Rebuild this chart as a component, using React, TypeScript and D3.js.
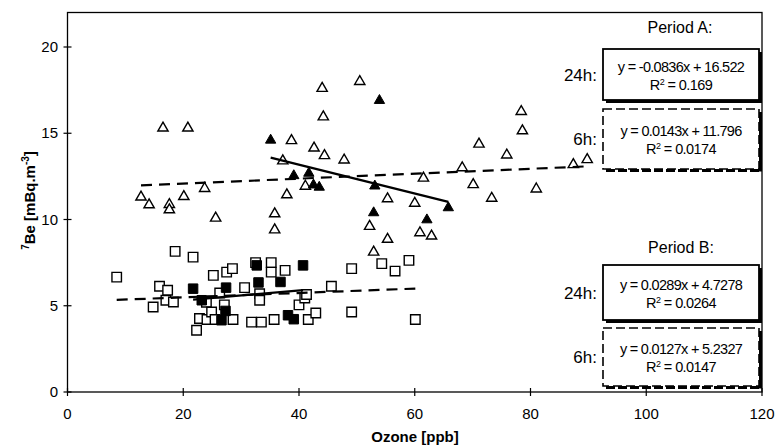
import React from "react";
import * as d3 from "d3";

const W = 776;
const H = 448;

// Period A, 6h samples (open triangles) [ozone ppb, 7Be mBq/m3]
const periodA6h: [number, number][] = [
  [12.7, 11.3], [14.1, 10.85], [17.6, 10.87], [17.6, 10.56], [20.1, 11.33],
  [23.7, 11.8], [25.6, 10.08], [16.5, 15.3], [20.8, 15.3], [35.8, 10.33],
  [35.8, 9.4], [37.2, 13.4], [37.9, 11.43], [38.7, 14.57], [41.1, 11.93],
  [42.6, 14.14], [44.0, 17.6], [44.2, 15.95], [44.4, 13.7], [47.8, 13.45],
  [50.5, 18.0], [52.2, 9.6], [52.9, 8.11], [55.3, 11.2], [55.3, 8.85],
  [60.0, 10.94], [60.9, 9.23], [61.5, 12.4], [62.9, 9.04], [68.2, 13.0],
  [70.1, 12.02], [71.1, 14.37], [73.3, 11.23], [75.9, 13.74], [78.4, 16.26],
  [78.6, 15.14], [81.0, 11.77], [87.4, 13.18], [89.8, 13.47],
];

// Period A, 24h samples (filled triangles)
const periodA24h: [number, number][] = [
  [35.1, 14.6], [39.1, 12.54], [41.7, 12.68], [42.5, 12.0], [43.5, 11.87],
  [53.9, 16.9], [53.1, 11.94], [52.9, 10.39], [62.1, 9.98], [65.8, 10.68],
];

// Period B, 6h samples (open squares)
const periodB6h: [number, number][] = [
  [8.5, 6.66], [14.8, 4.93], [15.9, 6.13], [17.0, 5.32], [17.3, 5.9],
  [18.3, 5.22], [18.6, 8.15], [21.7, 7.82], [22.3, 3.58], [22.8, 4.26],
  [24.0, 5.2], [24.1, 4.2], [24.9, 4.64], [25.2, 6.76], [25.5, 4.2],
  [26.3, 5.74], [27.1, 5.05], [27.5, 6.95], [28.5, 7.15], [28.6, 4.2],
  [30.6, 6.05], [31.8, 4.05], [32.5, 7.5], [33.2, 5.7], [33.2, 5.32],
  [33.5, 4.05], [35.2, 7.5], [35.2, 6.95], [35.7, 4.2], [37.6, 7.05],
  [40.0, 5.05], [41.0, 5.45], [41.3, 5.65], [41.6, 4.2], [42.9, 4.58],
  [45.6, 6.13], [49.1, 7.15], [49.1, 4.64], [54.3, 7.44], [56.6, 7.01],
  [59.0, 7.63], [60.1, 4.2],
];

// Period B, 24h samples (filled squares)
const periodB24h: [number, number][] = [
  [21.7, 5.99], [23.2, 5.32], [26.6, 4.16], [27.3, 4.7], [27.4, 6.05],
  [32.7, 7.34], [33.0, 6.35], [36.8, 6.38], [38.1, 4.45], [39.1, 4.22],
  [40.7, 7.34],
];

const xTicks = [0, 20, 40, 60, 80, 100, 120];
const yTicks = [0, 5, 10, 15, 20];

// linear fits shown in the boxes
const fits = [
  { id: "A24", data: periodA24h, slope: -0.0836, icept: 16.522, eq: "y = -0.0836x + 16.522", r2: "0.169", dashed: false, label: "24h:" },
  { id: "A6", data: periodA6h, slope: 0.0143, icept: 11.796, eq: "y = 0.0143x + 11.796", r2: "0.0174", dashed: true, label: "6h:" },
  { id: "B24", data: periodB24h, slope: 0.0289, icept: 4.7278, eq: "y = 0.0289x + 4.7278", r2: "0.0264", dashed: false, label: "24h:" },
  { id: "B6", data: periodB6h, slope: 0.0127, icept: 5.2327, eq: "y = 0.0127x + 5.2327", r2: "0.0147", dashed: true, label: "6h:" },
];

// box layout on the right side
const boxes: Record<string, { y: number; h: number }> = {
  A24: { y: 49, h: 51 },
  A6: { y: 109, h: 60 },
  B24: { y: 265, h: 55 },
  B6: { y: 328, h: 58 },
};

const font = "'Liberation Sans', Arial, sans-serif";

function Box({ fit }: { fit: typeof fits[number] }) {
  const b = boxes[fit.id];
  const bx = 603;
  const bw = 156;
  const cx = bx + bw / 2;
  const cy = b.y + b.h / 2;
  return (
    <g>
      <line x1={bx + bw + 1.5} y1={b.y + 3} x2={bx + bw + 1.5} y2={b.y + b.h + 2.5} stroke="black" strokeWidth={3} />
      <line x1={bx + 3} y1={b.y + b.h + 1.5} x2={bx + bw + 3} y2={b.y + b.h + 1.5} stroke="black" strokeWidth={3}
        strokeDasharray={fit.dashed ? "9 3" : undefined} />
      <rect x={bx} y={b.y} width={bw} height={b.h} fill="white" stroke="black" strokeWidth={fit.dashed ? 1.6 : 1.8}
        strokeDasharray={fit.dashed ? "9 4" : undefined} />
      <text x={cx} y={cy - 3} textAnchor="middle" fontFamily={font} fontSize={14.5} letterSpacing={-0.7}>{fit.eq}</text>
      <text x={cx} y={cy + 15} textAnchor="middle" fontFamily={font} fontSize={14.5} letterSpacing={-0.6}>
        R<tspan fontSize={9} dy={-5}>2</tspan><tspan dy={5}> = {fit.r2}</tspan>
      </text>
      <text x={597} y={cy + 6} textAnchor="end" fontFamily={font} fontSize={17}>{fit.label}</text>
    </g>
  );
}

export default function App() {
  const x = d3.scaleLinear().domain([0, 120]).range([67.5, 762]);
  const y = d3.scaleLinear().domain([0, 22]).range([392, 12.5]);

  const tri = d3.symbol().type(d3.symbolTriangle).size(46)()!;
  const sq = d3.symbol().type(d3.symbolSquare).size(90)()!;

  const trend = (f: typeof fits[number]) => {
    const [x0, x1] = d3.extent(f.data, (d) => d[0]) as [number, number];
    return d3.line<number>().x((d) => x(d)).y((d) => y(f.slope * d + f.icept))([x0, x1]) || "";
  };

  return (
    <svg width={W} height={H} style={{ position: "absolute", left: 0, top: 0, background: "white" }}>
      <rect x={0} y={0} width={W} height={H} fill="white" />
      {/* frame */}
      <rect x={x(0)} y={y(22)} width={x(120) - x(0)} height={y(0) - y(22)} fill="none" stroke="black" strokeWidth={1.3} />

      {/* ticks */}
      {yTicks.map((t) => (
        <g key={"y" + t}>
          <line x1={x(0) - 4} x2={x(0) + 4} y1={y(t)} y2={y(t)} stroke="black" strokeWidth={1.2} />
          <text x={58} y={y(t) + 5} textAnchor="end" fontFamily={font} fontSize={15}>{t}</text>
        </g>
      ))}
      {xTicks.map((t) => (
        <g key={"x" + t}>
          <line x1={x(t)} x2={x(t)} y1={y(0) - 4} y2={y(0) + 4} stroke="black" strokeWidth={1.2} />
          <text x={x(t)} y={419} textAnchor="middle" fontFamily={font} fontSize={15}>{t}</text>
        </g>
      ))}

      {/* axis titles */}
      <text x={415} y={442} textAnchor="middle" fontFamily={font} fontSize={15} fontWeight="bold">Ozone [ppb]</text>
      <text transform={`translate(35, ${y(11.1)}) rotate(-90)`} textAnchor="middle" fontFamily={font} fontSize={15} fontWeight="bold">
        <tspan fontSize={10} dy={-6}>7</tspan><tspan dy={6}>Be [mBq.m</tspan><tspan fontSize={10} dy={-6}>-3</tspan><tspan dy={6}>]</tspan>
      </text>

      {/* points */}
      {periodB6h.map((d, i) => (
        <path key={"b6" + i} d={sq} transform={`translate(${x(d[0])},${y(d[1])})`} fill="white" stroke="black" strokeWidth={1.4} />
      ))}
      {periodB24h.map((d, i) => (
        <path key={"b24" + i} d={sq} transform={`translate(${x(d[0])},${y(d[1])})`} fill="black" stroke="black" strokeWidth={1} />
      ))}
      {periodA6h.map((d, i) => (
        <path key={"a6" + i} d={tri} transform={`translate(${x(d[0])},${y(d[1])})`} fill="white" stroke="black" strokeWidth={1.4} />
      ))}
      {periodA24h.map((d, i) => (
        <path key={"a24" + i} d={tri} transform={`translate(${x(d[0])},${y(d[1])})`} fill="black" stroke="black" strokeWidth={1} />
      ))}

      {/* trend lines */}
      {fits.map((f) => (
        <path key={"t" + f.id} d={trend(f)} fill="none" stroke="black" strokeWidth={2.2}
          strokeDasharray={f.dashed ? "11 7" : undefined} />
      ))}

      {/* fit boxes */}
      <text x={680} y={33} textAnchor="middle" fontFamily={font} fontSize={16}>Period A:</text>
      <text x={681} y={253} textAnchor="middle" fontFamily={font} fontSize={16}>Period B:</text>
      {fits.map((f) => <Box key={f.id} fit={f} />)}
    </svg>
  );
}
